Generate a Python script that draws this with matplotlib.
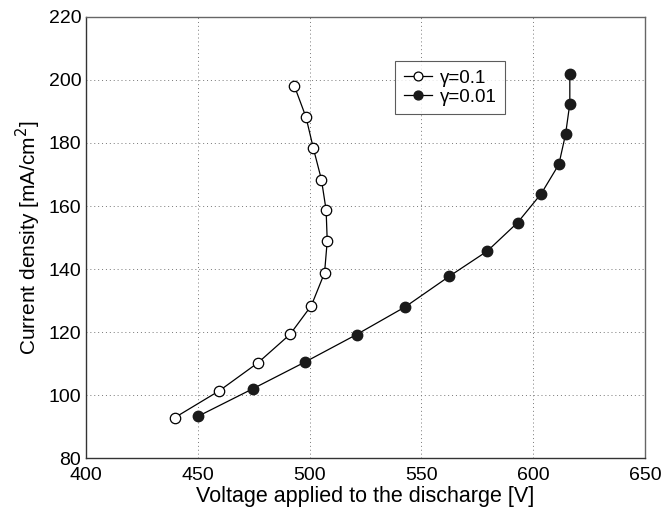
import matplotlib
matplotlib.use('Agg')
import matplotlib.pyplot as plt

plt.rcParams['font.family'] = ['Liberation Sans', 'DejaVu Sans']

# gamma = 0.1 (open circles)
v_01 = [439.6, 459.7, 477.0, 491.3, 500.8, 506.7, 507.9, 507.4, 505.3, 501.7, 498.4, 493.2]
j_01 = [92.8, 101.4, 110.3, 119.3, 128.4, 138.8, 148.9, 158.7, 168.4, 178.3, 188.2, 198.1]

# gamma = 0.01 (filled circles)
v_001 = [450.2, 474.6, 498.0, 521.0, 542.8, 562.5, 579.5, 593.0, 603.6, 611.5, 614.5, 616.4, 616.4]
j_001 = [93.3, 102.0, 110.5, 119.2, 128.0, 137.7, 145.7, 154.7, 163.9, 173.2, 182.8, 192.5, 202.0]

xticks = [400, 450, 500, 550, 600, 650]
yticks = [80, 100, 120, 140, 160, 180, 200, 220]

fig = plt.figure(figsize=(6.64, 5.13), dpi=100)
ax = fig.add_axes([0.1295, 0.107, 0.8418, 0.860])

ax.plot(v_01, j_01, '-o', color='black', mfc='white', mec='black', ms=7.5,
        lw=0.9, mew=0.9, label='γ=0.1')
ax.plot(v_001, j_001, '-o', color='black', mfc='#1a1a1a', mec='#1a1a1a', ms=7.5,
        lw=0.9, label='γ=0.01')

ax.set_xlim(400, 650)
ax.set_ylim(80, 220)
ax.set_xticks(xticks)
ax.set_yticks(yticks)
ax.grid(True, linestyle=(0, (1, 3)), color='#777777', linewidth=0.7)
ax.tick_params(axis='both', length=0, labelsize=14)
ax.tick_params(axis='x', pad=6.5)
ax.tick_params(axis='y', pad=3.5)
for side, s in ax.spines.items():
    s.set_linewidth(1.0)
    s.set_color('#333333' if side in ('left', 'bottom') else '#666666')

ax.set_xlabel('Voltage applied to the discharge [V]', fontsize=15.5, labelpad=1)
ax.set_ylabel('Current density [mA/cm$^2$]', fontsize=15, labelpad=4)

leg = ax.legend(loc='upper left', bbox_to_anchor=(0.553, 0.9), fontsize=13.5,
                frameon=True, fancybox=False, edgecolor='#333333',
                handlelength=1.5, borderpad=0.45, labelspacing=0.1,
                handletextpad=0.45, borderaxespad=0, markerscale=0.85)
leg.get_frame().set_linewidth(0.8)

fig.savefig('out.png', dpi=100)
